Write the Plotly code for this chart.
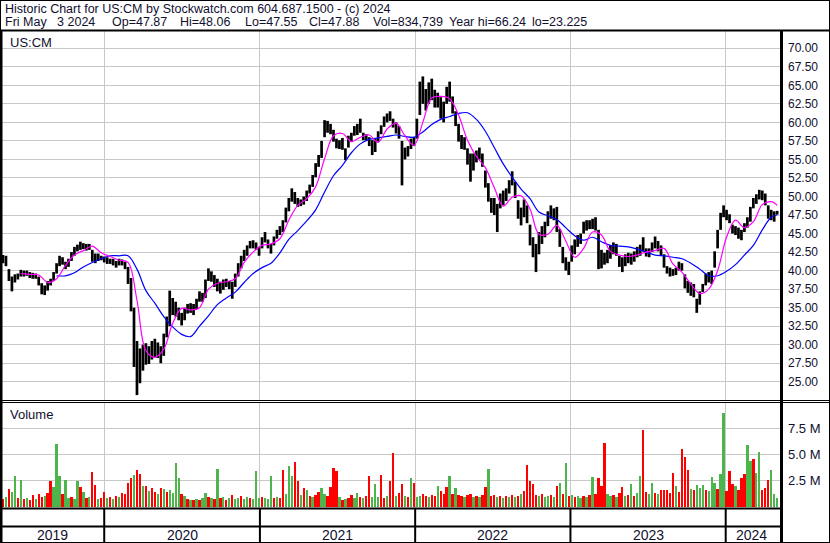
import plotly.graph_objects as go
import pandas as pd

W, H = 830, 543

# ---------------- data (weekly) ----------------
first_week = "2019-05-01"
x_end = "2024-05-10"

week_hi = [41.9, 42.1, 42.0, 40.2, 39.2, 39.5, 39.6, 40.1, 40.0, 40.0,
           39.8, 39.7, 39.6, 39.2, 38.3, 38.0, 38.6, 38.9, 39.8, 41.0,
           42.0, 41.8, 41.2, 41.6, 42.5, 43.2, 43.5, 43.9, 43.7, 43.6,
           43.6, 42.8, 42.3, 42.3, 42.0, 41.9, 41.8, 41.6, 41.6, 41.3,
           41.6, 41.5, 41.2, 40.5, 39.0, 35.0, 30.5, 29.5, 30.0, 30.2,
           29.8, 30.5, 30.8, 30.3, 29.8, 31.5, 33.8, 37.3, 36.3, 35.8,
           35.0, 34.3, 35.0, 35.5, 35.6, 35.5, 36.2, 37.2, 37.0, 38.8,
           40.3, 39.9, 39.4, 38.9, 38.5, 38.8, 38.9, 38.6, 38.5, 39.6,
           41.0, 42.0, 42.8, 43.4, 44.0, 44.1, 43.8, 43.2, 44.5, 45.2,
           44.2, 43.6, 44.6, 45.5, 46.0, 46.8, 48.5, 49.8, 51.1, 50.6,
           49.8, 49.6, 50.0, 50.8, 51.6, 52.9, 54.5, 55.6, 57.5, 60.3,
           60.2, 59.8, 59.0, 57.8, 57.6, 57.9, 56.5, 58.2, 58.6, 59.5,
           59.8, 60.5, 58.6, 58.4, 58.0, 57.6, 57.8, 58.8, 59.6, 60.8,
           61.2, 61.5, 60.5, 60.0, 59.5, 57.5, 56.6, 56.8, 57.8, 58.0,
           60.5, 65.5, 66.2, 64.5, 65.4, 65.9, 64.4, 64.0, 63.4, 62.8,
           64.8, 65.5, 63.5, 61.5, 59.8, 58.3, 58.0, 56.5, 55.8, 55.8,
           56.2, 56.6, 55.8, 53.5, 51.8, 49.8, 49.8, 49.0, 50.4, 50.8,
           51.1, 52.2, 53.4, 52.0, 49.5, 48.5, 49.6, 48.8, 46.2, 44.5,
           43.6, 45.2, 46.0, 46.6, 48.0, 48.8, 48.4, 48.6, 45.6, 43.2,
           41.8, 41.2, 43.4, 44.2, 44.8, 45.0, 46.6, 46.8, 46.8, 47.0,
           47.2, 45.5, 42.8, 42.4, 42.8, 43.4, 43.8, 43.6, 42.0, 41.8,
           42.2, 42.4, 42.3, 42.6, 43.2, 43.5, 44.5, 43.0, 43.0, 43.8,
           44.6, 44.0, 43.4, 42.2, 40.6, 40.4, 40.2, 40.4, 41.2, 41.0,
           39.5, 38.6, 38.4, 38.2, 36.2, 37.2, 38.2, 39.6, 39.8, 40.0,
           42.6, 45.5, 47.8, 48.8, 48.2, 47.6, 46.2, 46.0, 45.8, 45.5,
           46.4, 47.2, 48.6, 49.8, 50.3, 50.9, 50.8, 50.4, 48.8, 48.2,
           48.0, 48.06]

week_lo = [40.9, 41.0, 40.6, 38.6, 37.2, 38.4, 38.8, 39.2, 39.2, 39.3,
           39.0, 38.9, 38.9, 38.0, 36.8, 36.7, 37.3, 38.0, 38.6, 39.6,
           40.6, 40.8, 40.2, 40.5, 41.3, 42.0, 42.6, 42.8, 42.9, 42.7,
           42.8, 41.2, 41.0, 41.3, 41.4, 41.1, 40.9, 40.9, 40.7, 40.4,
           40.7, 40.7, 40.2, 38.2, 34.5, 27.0, 23.2, 24.8, 26.5, 27.3,
           27.4, 28.0, 28.3, 28.2, 27.5, 28.5, 31.0, 32.5, 34.0, 33.8,
           33.3, 32.6, 33.3, 34.2, 34.3, 34.0, 34.8, 35.8, 35.8, 36.3,
           38.6, 38.5, 37.8, 37.2, 36.9, 37.4, 37.8, 37.5, 36.2, 37.8,
           39.2, 40.3, 41.3, 42.0, 43.0, 43.0, 42.8, 42.0, 43.0, 43.8,
           43.0, 42.3, 43.4, 44.3, 44.8, 45.2, 46.5, 48.0, 49.3, 49.0,
           48.6, 48.7, 48.9, 49.4, 50.4, 51.3, 52.6, 54.0, 55.2, 58.0,
           58.6, 58.4, 57.4, 56.5, 56.4, 56.3, 54.9, 56.6, 57.4, 58.2,
           58.3, 58.6, 57.6, 57.6, 56.8, 55.6, 56.0, 57.4, 58.4, 59.4,
           60.0, 60.2, 59.3, 58.5, 57.8, 51.5, 55.0, 55.4, 56.4, 56.8,
           57.8, 61.0, 62.5, 61.6, 62.5, 63.0, 62.0, 62.0, 60.5, 60.0,
           62.5, 62.8, 61.2, 59.5, 57.4, 56.4, 56.3, 54.3, 52.0, 53.5,
           54.6, 55.0, 54.0, 51.2, 49.3, 47.8, 47.5, 45.2, 48.4, 48.8,
           49.4, 50.4, 51.5, 49.8, 47.0, 46.1, 47.2, 46.4, 43.4, 41.8,
           39.8, 42.2, 43.6, 44.5, 46.0, 47.0, 46.8, 45.2, 43.2, 41.0,
           40.0, 39.4, 41.2, 42.2, 43.2, 43.6, 45.0, 45.4, 45.6, 45.6,
           45.4, 40.2, 40.3, 40.8, 41.0, 41.6, 42.2, 42.0, 40.5, 39.8,
           40.6, 41.0, 40.8, 41.2, 41.8, 42.0, 42.6, 41.9, 41.8, 42.5,
           43.0, 42.6, 42.0, 40.4, 39.6, 39.2, 39.3, 39.4, 40.0, 40.0,
           37.6, 37.0, 36.6, 36.4, 34.3, 35.4, 37.1, 38.0, 38.4, 38.2,
           40.4, 43.0, 45.5, 47.2, 46.8, 46.4, 45.0, 44.8, 44.3, 44.1,
           45.2, 45.8, 46.6, 48.4, 49.0, 49.6, 49.5, 48.8, 47.0, 46.8,
           46.6, 47.55]

# short moving average (magenta), sampled every 3 weeks from week 7
ma_short_first, ma_step = 7, 3
ma_short = [39.6, 39.5, 39.4, 38.4, 38.9, 40.7, 42.1, 42.7, 43.3, 42.4,
            41.9, 41.4, 41.1, 36.0, 29.2, 28.3, 29.4, 32.9, 34.9, 34.7,
            35.0, 37.5, 38.3, 38.5, 38.9, 41.1, 42.5, 43.4, 43.6, 44.3,
            46.8, 48.8, 49.7, 51.3, 55.1, 58.2, 58.5, 57.4, 58.0, 58.3,
            57.3, 59.1, 59.9, 58.2, 56.9, 60.0, 63.3, 63.5, 63.2, 61.0,
            57.6, 55.4, 53.9, 51.2, 48.7, 49.9, 50.1, 48.3, 44.9, 44.9,
            46.1, 44.0, 41.8, 43.0, 45.2, 44.8, 42.6, 42.1, 41.9, 42.1,
            42.5, 42.7, 43.0, 40.9, 39.8, 38.2, 36.9, 37.5, 40.0, 44.5,
            46.8, 45.8, 46.6, 48.9, 49.3, 48.8]

# long moving average (blue), sampled every 3 weeks from week 19
ma_long_first = 19
ma_long = [39.3, 39.3, 39.7, 40.5, 41.1, 41.6, 42.0, 42.0, 42.0, 40.2,
           37.3, 35.6, 33.8, 32.4, 31.4, 31.1, 32.5, 33.9, 35.4, 36.3,
           37.1, 38.4, 39.6, 40.4, 41.0, 42.4, 44.2, 45.4, 46.7, 48.2,
           50.6, 52.8, 54.2, 55.9, 57.1, 57.7, 57.9, 58.1, 58.3, 58.1,
           58.0, 58.7, 59.7, 60.4, 60.8, 61.2, 61.3, 60.4, 58.8, 56.6,
           54.4, 52.6, 51.0, 49.7, 47.9, 47.4, 46.9, 45.8, 44.7, 44.1,
           44.5, 43.9, 43.4, 43.3, 43.2, 42.9, 42.5, 42.1, 42.0, 41.8,
           41.6, 41.0, 40.2, 39.3, 39.3, 39.9, 40.8, 42.1, 43.4, 45.5,
           47.2, 47.5]

# representative daily volume in each week (millions) and bar colour (g=up, r=down)
week_vol = [0.8, 0.7, 0.9, 1.7, 1.4, 2.9, 0.8, 2.6, 0.7, 0.8,
            0.6, 1.1, 0.7, 1.2, 0.9, 1.0, 1.3, 2.5, 1.9, 6.0,
            2.9, 1.2, 2.6, 0.8, 0.9, 0.7, 2.5, 1.9, 1.4, 0.8,
            0.9, 3.3, 2.1, 0.7, 0.8, 1.4, 0.8, 0.9, 0.7, 1.0,
            0.9, 1.3, 1.2, 2.3, 2.7, 3.0, 3.5, 3.1, 2.0, 2.0,
            1.5, 1.8, 1.4, 1.2, 1.8, 1.7, 1.4, 1.6, 1.3, 4.2,
            2.7, 1.2, 1.0, 0.7, 0.6, 0.6, 0.7, 0.6, 0.8, 1.3,
            0.9, 0.8, 0.7, 3.6, 0.8, 0.9, 0.6, 0.8, 1.1, 0.7,
            0.8, 1.0, 0.7, 0.9, 0.8, 0.7, 3.4, 0.8, 0.9, 0.8,
            0.7, 2.9, 0.8, 0.9, 0.8, 3.5, 1.2, 3.9, 2.9, 4.3,
            2.5, 1.1, 1.8, 1.6, 1.0, 0.9, 1.1, 1.4, 1.8, 1.2,
            1.0, 1.9, 3.7, 3.4, 0.9, 0.6, 0.7, 0.8, 1.1, 0.8,
            1.3, 0.9, 0.8, 1.0, 2.9, 0.9, 2.2, 0.9, 3.0, 0.8,
            1.0, 2.5, 5.1, 1.0, 1.3, 2.2, 1.0, 0.9, 2.7, 2.3,
            0.9, 1.0, 1.2, 1.0, 0.9, 1.1, 1.0, 2.0, 1.5, 1.2,
            1.9, 2.9, 1.2, 1.8, 1.1, 1.0, 0.9, 1.1, 1.2, 0.9,
            1.0, 0.9, 1.1, 1.9, 3.6, 1.0, 1.1, 0.9, 1.0, 0.8,
            1.0, 0.9, 1.1, 0.9, 1.0, 1.2, 1.5, 4.0, 2.5, 2.2,
            1.1, 1.0, 1.2, 0.9, 1.0, 1.1, 0.9, 2.0, 2.3, 1.2,
            4.2, 1.0, 1.1, 0.9, 1.0, 0.8, 1.0, 0.9, 1.1, 2.8,
            1.2, 2.7, 2.0, 6.1, 1.2, 1.0, 1.1, 0.9, 1.3, 1.9,
            1.0, 1.1, 2.2, 1.0, 1.3, 2.9, 7.4, 1.4, 1.2, 2.3,
            1.3, 1.2, 1.6, 1.6, 1.6, 1.3, 3.2, 2.0, 1.4, 5.5,
            4.8, 3.5, 1.7, 1.6, 2.1, 1.8, 2.1, 1.6, 1.5, 2.8,
            2.3, 1.7, 3.1, 9.0, 1.5, 3.4, 2.2, 2.0, 1.6, 2.7,
            3.1, 5.9, 4.4, 4.6, 3.2, 5.2, 1.6, 1.8, 2.6, 3.5,
            1.2, 0.83]

week_dir = ("grgrggrgrg" "rrgrrgrrgg" "grggrggrgr" "grrgrrgrgr"
            "grrrrgrrgr" "grrgrgrggg" "grgrgrgrgg" "rgrgrgrgrg"
            "grggrgggrg" "ggrgrrgggr" "rgrgrgrrgg" "rrrrgrgrrg"
            "grgrrgggrr" "grrgrrgrgr" "ggrrgrrgrr" "rgrgrrgrrg"
            "rgrrgrrgrg" "rgrgrgrrrr" "rgrggrgrgr" "grgrggrgrg"
            "rrrrggrgrr" "grgrggrrgg" "rgrrrrrgrr" "rrgrgggrgg"
            "grggrrrgrr" "rggrggrrrg" "gg")

price_ticks = [25 + 2.5 * k for k in range(19)]
vol_ticks = [2.5, 5.0, 7.5]
year_starts = ["2020-01-01", "2021-01-01", "2022-01-01", "2023-01-01", "2024-01-01"]
year_labels = ["2019", "2020", "2021", "2022", "2023", "2024"]

header1 = "Historic Chart for US:CM by Stockwatch.com 604.687.1500 - (c) 2024"
header2_fields = ["Fri May   3 2024", "Op=47.87", "Hi=48.06", "Lo=47.55", "Cl=47.88",
                  "Vol=834,739", "Year hi=66.24", "lo=23.225"]
header2_x = [3, 110, 178, 243, 307, 371, 447, 530]

# ---------------- build ----------------
t0 = pd.Timestamp(first_week)
n = len(week_hi)
dates = [t0 + pd.Timedelta(days=7 * i) for i in range(n)]

bx, by = [], []
for d, h, l in zip(dates, week_hi, week_lo):
    bx += [d, d, None]
    by += [l, h, None]

short_x = [dates[min(ma_short_first + ma_step * k, n - 1)] for k in range(len(ma_short))]
long_x = [dates[min(ma_long_first + ma_step * k, n - 1)] for k in range(len(ma_long))]

RED, GREEN = "#ff0000", "#4cb54c"
vcol = [GREEN if c == "g" else RED for c in week_dir]

FONT = "Liberation Sans, Arial, sans-serif"
TXT = "#101030"

def px_x(p):
    return p / W

def px_y(p):
    return 1 - p / H

fig = go.Figure()
fig.add_trace(go.Scatter(x=bx, y=by, mode="lines", line=dict(color="black", width=2.7),
                         hoverinfo="skip", showlegend=False, xaxis="x", yaxis="y"))
fig.add_trace(go.Scatter(x=long_x, y=ma_long, mode="lines", line=dict(color="#0000ff", width=1.2),
                         line_shape="spline", showlegend=False, xaxis="x", yaxis="y"))
fig.add_trace(go.Scatter(x=short_x, y=ma_short, mode="lines", line=dict(color="#ff00ff", width=1.2),
                         line_shape="spline", showlegend=False, xaxis="x", yaxis="y"))
fig.add_trace(go.Bar(x=dates, y=[v * 1e6 for v in week_vol], marker=dict(color=vcol, line=dict(width=0)),
                     width=7 * 24 * 3600 * 1000 * 0.78, showlegend=False, xaxis="x2", yaxis="y2"))

xdom = [0, 781 / W]
common_x = dict(domain=xdom, range=[first_week, x_end], showticklabels=False,
                tickvals=year_starts, showgrid=True, gridcolor="#c8c8c8", gridwidth=1,
                zeroline=False, showline=False, ticks="")

fig.update_layout(
    width=W, height=H, margin=dict(l=0, r=0, t=0, b=0),
    paper_bgcolor="white", plot_bgcolor="white",
    font=dict(family=FONT, size=12, color=TXT),
    bargap=0,
    xaxis=dict(anchor="y", **common_x),
    xaxis2=dict(anchor="y2", matches="x", **common_x),
    yaxis=dict(domain=[px_y(400), px_y(31)], range=[22.54, 72.33], side="right",
               tickvals=price_ticks, ticktext=[f"{v:.2f}" for v in price_ticks],
               showgrid=True, gridcolor="#c8c8c8", zeroline=False, ticks="",
               ticklabelstandoff=6, tickfont=dict(size=12, color=TXT), automargin=False),
    yaxis2=dict(domain=[px_y(508), px_y(402)], range=[-0.14e6, 10.05e6], side="right",
                tickvals=[v * 1e6 for v in vol_ticks], ticktext=[f"{v:.1f} M" for v in vol_ticks],
                showgrid=True, gridcolor="#c8c8c8", zeroline=False, ticks="",
                ticklabelstandoff=6, tickfont=dict(size=13, color=TXT), automargin=False),
)

shapes = []
def hline(y, x0=0, x1=W, w=2):
    shapes.append(dict(type="line", xref="paper", yref="paper", x0=px_x(x0), x1=px_x(x1),
                       y0=px_y(y), y1=px_y(y), line=dict(color="black", width=w)))

shapes.append(dict(type="rect", xref="paper", yref="paper", x0=0, x1=1, y0=0, y1=1,
                   line=dict(color="black", width=2)))
hline(30.5, w=2)
hline(400.5, w=1)
hline(402.5, w=1)
hline(508.5, 0, 781, 2)
hline(526.5, 0, 781, 2)
shapes.append(dict(type="line", xref="paper", yref="paper", x0=px_x(781.5), x1=px_x(781.5),
                   y0=0, y1=px_y(30), line=dict(color="black", width=3)))
shapes.append(dict(type="line", xref="paper", yref="paper", x0=px_x(1), x1=px_x(1),
                   y0=0, y1=px_y(30), line=dict(color="black", width=3)))
for ys in year_starts:
    shapes.append(dict(type="line", xref="x", yref="paper", x0=ys, x1=ys,
                       y0=0, y1=px_y(508), line=dict(color="black", width=2)))
fig.update_layout(shapes=shapes)

ann = []
def text(x, y, s, size=12, anchor="left"):
    ann.append(dict(xref="paper", yref="paper", x=px_x(x), y=px_y(y), text=s.replace(" ", "\u00a0"),
                    showarrow=False, xanchor=anchor, yanchor="middle", xshift=0,
                    font=dict(family=FONT, size=size, color=TXT)))

text(3, 9, header1, 12.5)
for fx, s in zip(header2_x, header2_fields):
    text(fx, 22, s, 12.5)
text(8, 42, "US:CM", 13)
text(8, 414, "Volume", 13)

bounds = [pd.Timestamp(first_week)] + [pd.Timestamp(y) for y in year_starts] + [pd.Timestamp(x_end) - pd.Timedelta(days=9)]
for k, lab in enumerate(year_labels):
    mid = bounds[k] + (bounds[k + 1] - bounds[k]) / 2
    ann.append(dict(xref="x", yref="paper", x=mid, y=px_y(535), text=lab, showarrow=False,
                    xanchor="center", yanchor="middle", font=dict(family=FONT, size=14, color=TXT)))
fig.update_layout(annotations=ann)

fig.write_html("out.html", config={"displayModeBar": False},
               post_script="document.body.style.margin='0';document.body.style.overflow='hidden';")
